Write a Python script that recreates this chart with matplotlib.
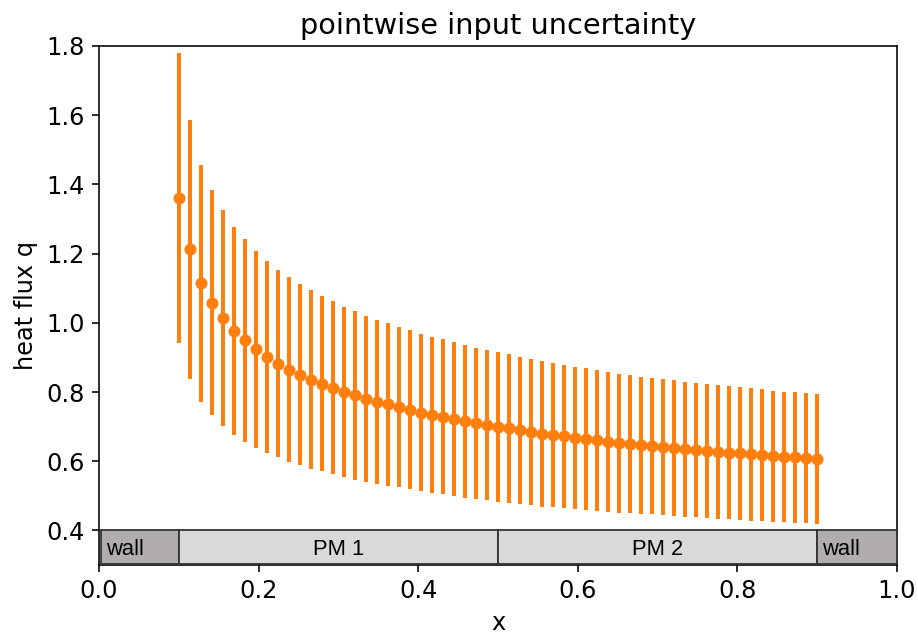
import numpy as np
import matplotlib
matplotlib.use('Agg')
from matplotlib import pyplot as plt
from matplotlib.patches import Rectangle

plt.rcParams['font.size'] = 12

# x grid: 59 equally spaced evaluation points between the walls
x = np.linspace(0.1, 0.9, 59)

q_mean = [1.360, 1.2125, 1.114, 1.058, 1.0135, 0.977, 0.949, 0.923, 0.902, 0.882,
          0.865, 0.850, 0.836, 0.824, 0.812, 0.800, 0.790, 0.781, 0.772, 0.764,
          0.7565, 0.749, 0.740, 0.734, 0.7285, 0.722, 0.715, 0.710, 0.704, 0.6995,
          0.6947, 0.689, 0.684, 0.679, 0.675, 0.6716, 0.6676, 0.664, 0.660, 0.656,
          0.652, 0.649, 0.6455, 0.6435, 0.6406, 0.6377, 0.635, 0.6328, 0.630, 0.627,
          0.624, 0.6223, 0.6194, 0.6174, 0.614, 0.6125, 0.6107, 0.6087, 0.6067]

q_err = [0.419, 0.3735, 0.343, 0.3256, 0.3116, 0.3005, 0.2923, 0.284, 0.2775, 0.2713,
         0.266, 0.2618, 0.258, 0.253, 0.250, 0.246, 0.2435, 0.240, 0.2375, 0.235,
         0.2325, 0.2305, 0.2275, 0.2255, 0.2245, 0.222, 0.220, 0.218, 0.2175, 0.216,
         0.215, 0.2125, 0.2113, 0.210, 0.208, 0.2067, 0.2054, 0.2044, 0.2035, 0.2025,
         0.201, 0.1995, 0.199, 0.1975, 0.197, 0.196, 0.195, 0.1946, 0.1936, 0.1928,
         0.192, 0.1918, 0.191, 0.190, 0.1895, 0.1885, 0.188, 0.1875, 0.1875]

# layer strip along the bottom
layer_names = ['wall', 'PM 1', 'PM 2', 'wall']
layer_edges = [0.0, 0.1, 0.5, 0.9, 1.0]
layer_colors = ['#b1adac', '#d9d9d9', '#d9d9d9', '#b1adac']

fig = plt.figure(figsize=(918 / 144, 637 / 144), dpi=144)
ax = fig.add_axes([99 / 918, 72 / 637, 798 / 918, 519 / 637])

ax.errorbar(x, q_mean, yerr=q_err, fmt='o', color='#ff7f0e', ecolor='#ff7f0e',
            markersize=5, elinewidth=2.0, capsize=0)

for i, name in enumerate(layer_names):
    x0 = layer_edges[i] + (0.003 if i == 0 else 0)
    w = layer_edges[i + 1] - x0
    ax.add_patch(Rectangle((x0, 0.303), w, 0.099, facecolor=layer_colors[i],
                           edgecolor='#333333', linewidth=0.9, zorder=3, clip_on=False))
    if name == 'wall':
        ax.text(x0 + 0.006, 0.345, name, ha='left', va='center', fontsize=11,
                family='Liberation Sans', zorder=4)
    else:
        ax.text((x0 + layer_edges[i + 1]) / 2, 0.345, name, ha='center', va='center',
                fontsize=11, family='Liberation Sans', zorder=4)

ax.set_xlim(0.0, 1.0)
ax.set_ylim(0.3, 1.8)
ax.set_xticks([0.0, 0.2, 0.4, 0.6, 0.8, 1.0])
ax.set_yticks([0.4, 0.6, 0.8, 1.0, 1.2, 1.4, 1.6, 1.8])
ax.set_xlabel('x')
ax.set_ylabel('heat flux q')
ax.set_title('pointwise input uncertainty')

plt.savefig('out.png', dpi=144)
plt.close()
